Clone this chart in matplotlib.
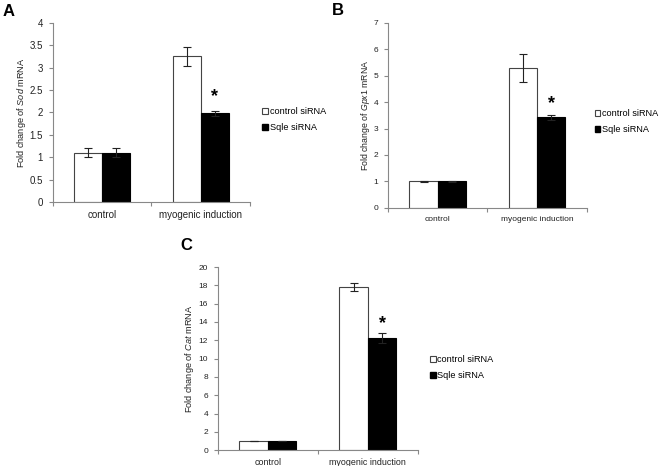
import matplotlib
matplotlib.use("Agg")
import matplotlib.pyplot as plt
from matplotlib.patches import Patch

plt.rcParams['font.family'] = ['Liberation Sans', 'DejaVu Sans']
plt.rcParams['mathtext.fontset'] = 'custom'
plt.rcParams['mathtext.it'] = 'Liberation Sans:italic'
plt.rcParams['mathtext.rm'] = 'Liberation Sans'

groups = ["control", "myogenic induction"]
series = ["control siRNA", "Sqle siRNA"]

# panel A: Sod
sod_ctrl = [1.10, 3.25]
sod_ctrl_err = [0.10, 0.21]
sod_sqle = [1.10, 1.98]
sod_sqle_err = [0.10, 0.06]

# panel B: Gpx1
gpx_ctrl = [1.00, 5.28]
gpx_ctrl_err = [0.02, 0.53]
gpx_sqle = [1.00, 3.42]
gpx_sqle_err = [0.02, 0.11]

# panel C: Cat
cat_ctrl = [1.00, 17.85]
cat_ctrl_err = [0.0, 0.45]
cat_sqle = [1.00, 12.2]
cat_sqle_err = [0.0, 0.55]


def panel(ax, ctrl, ctrl_err, sqle, sqle_err, gene, ymax, ystep, star_y,
          fs, cat_fs, lab_fs, leg_fs, lab_pad, leg_anchor):
    w = 0.285
    xs = [0.5, 1.5]
    ax.bar([x - w / 2 for x in xs], ctrl, w, yerr=ctrl_err, color="white",
           edgecolor="#444444", linewidth=0.8, capsize=3,
           error_kw=dict(elinewidth=0.8, capthick=0.8, ecolor="#222222"))
    ax.bar([x + w / 2 for x in xs], sqle, w, yerr=sqle_err, color="black",
           edgecolor="black", linewidth=0.8, capsize=3,
           error_kw=dict(elinewidth=0.8, capthick=0.8, ecolor="#222222"))
    ax.text(xs[1] + w / 2, star_y, "*", ha="center", va="center",
            fontsize=13, fontweight="bold")
    ax.set_xlim(0, 2)
    ax.set_ylim(0, ymax)
    yt = []
    v = 0
    while v <= ymax + 1e-9:
        yt.append(v)
        v += ystep
    ax.set_yticks(yt)
    ax.set_yticklabels([("%g" % t) for t in yt], fontsize=fs, color="#222222")
    ax.set_xticks([0, 1, 2])
    ax.set_xticklabels([])
    ax.set_xticks(xs, minor=True)
    ax.set_xticklabels(groups, minor=True, fontsize=cat_fs, color="#222222")
    ax.tick_params(axis="x", which="minor", length=0, pad=6)
    ax.tick_params(axis="x", which="major", length=3, color="#888888")
    ax.tick_params(axis="y", length=3, color="#888888", pad=4)
    for s in ["top", "right"]:
        ax.spines[s].set_visible(False)
    for s in ["left", "bottom"]:
        ax.spines[s].set_color("#888888")
        ax.spines[s].set_linewidth(0.8)
    ax.set_ylabel("Fold change of $\\mathit{%s}$ mRNA" % gene, fontsize=lab_fs,
                  color="#222222", labelpad=lab_pad)
    handles = [Patch(facecolor="white", edgecolor="#444444", linewidth=0.8),
               Patch(facecolor="black", edgecolor="black")]
    ax.legend(handles, series, loc="center left", bbox_to_anchor=leg_anchor,
              frameon=False, fontsize=leg_fs, handlelength=0.6, handleheight=0.6,
              handletextpad=0.2, labelspacing=0.8)


fig = plt.figure(figsize=(6.6, 4.66), dpi=100)

axA = fig.add_axes([0.080, 0.5665, 0.299, 0.3845])
panel(axA, sod_ctrl, sod_ctrl_err, sod_sqle, sod_sqle_err, "Sod", 4, 0.5, 2.36,
      7, 7, 6.6, 6.6, 1, (1.02, 0.46))

axB = fig.add_axes([0.588, 0.554, 0.301, 0.397])
panel(axB, gpx_ctrl, gpx_ctrl_err, gpx_sqle, gpx_sqle_err, "Gpx1", 7, 1, 3.95,
      6, 6, 6.3, 6.6, 1, (1.0, 0.465))

axC = fig.add_axes([0.330, 0.034, 0.303, 0.393])
panel(axC, cat_ctrl, cat_ctrl_err, cat_sqle, cat_sqle_err, "Cat", 20, 2, 13.8,
      6, 6.4, 6.6, 6.6, 2, (1.02, 0.45))

fig.text(0.004, 0.975, "A", fontsize=12, fontweight="bold", va="center")
fig.text(0.503, 0.978, "B", fontsize=12, fontweight="bold", va="center")
fig.text(0.273, 0.474, "C", fontsize=12, fontweight="bold", va="center")

fig.savefig("out.png", dpi=100)
